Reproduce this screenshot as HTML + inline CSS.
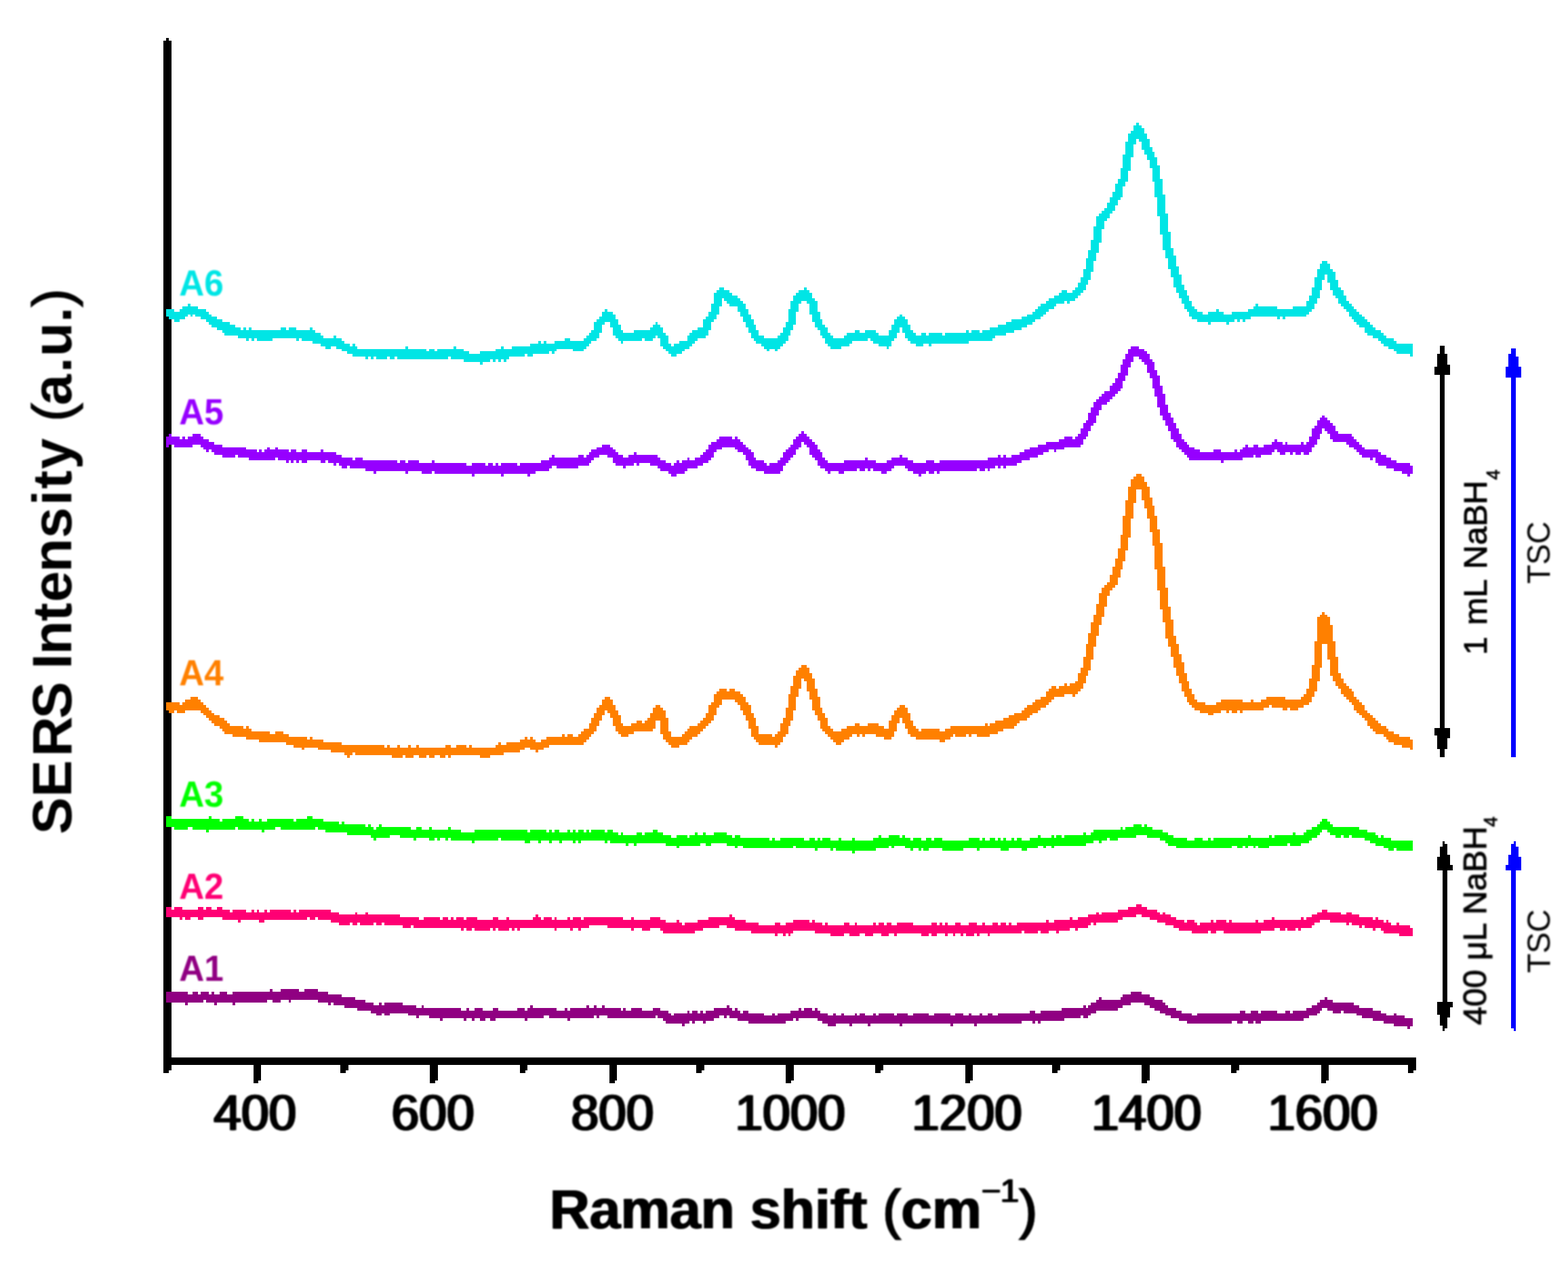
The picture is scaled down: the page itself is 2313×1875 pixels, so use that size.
<!DOCTYPE html>
<html lang="en"><head><meta charset="utf-8"><title>SERS spectra</title>
<style>
html,body{margin:0;padding:0;background:#fff;}
body{width:2313px;height:1875px;overflow:hidden;}
svg{display:block;}
text{font-family:"Liberation Sans",Arial,Helvetica,sans-serif;}
.tick{font-size:75px;fill:#000;text-anchor:middle;stroke:#000;stroke-width:0.4px;}
.ttl{font-size:81px;font-weight:bold;fill:#000;text-anchor:middle;}
.lab{font-size:53px;font-weight:bold;}
.ann{font-size:49px;fill:#000;text-anchor:middle;stroke:#000;stroke-width:0;}
.rg{font-weight:normal;stroke:#000;stroke-width:0.6px;}
.rg2{font-weight:normal;stroke:#000;stroke-width:1.4px;}
.soft{filter:url(#soft);}
.softh{filter:url(#softh);}
.softt{filter:url(#softt);}
</style></head><body>
<svg width="2313" height="1875" viewBox="0 0 2313 1875">
<defs><filter id="soft" x="-5%" y="-5%" width="110%" height="110%"><feGaussianBlur stdDeviation="1.1"/></filter><filter id="softt" x="-5%" y="-10%" width="110%" height="120%"><feOffset in="SourceGraphic" dx="-0.9" result="a"/><feOffset in="SourceGraphic" dx="0.9" result="b"/><feMerge result="m"><feMergeNode in="a"/><feMergeNode in="b"/></feMerge><feGaussianBlur in="m" stdDeviation="1.0"/></filter><filter id="softh" x="-5%" y="-10%" width="110%" height="120%"><feOffset in="SourceGraphic" dx="-1.5" result="a"/><feOffset in="SourceGraphic" dx="1.5" result="b"/><feMerge result="m"><feMergeNode in="a"/><feMergeNode in="b"/><feMergeNode in="SourceGraphic"/></feMerge><feGaussianBlur in="m" stdDeviation="1.0"/></filter></defs>
<rect width="2313" height="1875" fill="#fff"/>
<g shape-rendering="crispEdges"><rect x="241.30" y="59.80" width="11.80" height="1519.20" fill="#000"/><rect x="245.20" y="55.90" width="3.90" height="3.90" fill="#000"/><rect x="241.30" y="1579.00" width="7.80" height="4.00" fill="#000"/><rect x="241.30" y="1559.80" width="1847.30" height="11.60" fill="#000"/><rect x="373.52" y="1571.00" width="11.76" height="23.30" fill="#000"/><rect x="373.52" y="1594.00" width="7.84" height="4.30" fill="#000"/><rect x="501.92" y="1571.00" width="11.76" height="8.00" fill="#000"/><rect x="501.92" y="1578.80" width="7.84" height="4.20" fill="#000"/><rect x="634.22" y="1571.00" width="11.76" height="23.30" fill="#000"/><rect x="634.22" y="1594.00" width="7.84" height="4.30" fill="#000"/><rect x="766.72" y="1571.00" width="11.76" height="8.00" fill="#000"/><rect x="766.72" y="1578.80" width="7.84" height="4.20" fill="#000"/><rect x="898.72" y="1571.00" width="11.76" height="23.30" fill="#000"/><rect x="898.72" y="1594.00" width="7.84" height="4.30" fill="#000"/><rect x="1027.12" y="1571.00" width="11.76" height="8.00" fill="#000"/><rect x="1027.12" y="1578.80" width="7.84" height="4.20" fill="#000"/><rect x="1159.12" y="1571.00" width="11.76" height="23.30" fill="#000"/><rect x="1159.12" y="1594.00" width="7.84" height="4.30" fill="#000"/><rect x="1291.42" y="1571.00" width="11.76" height="8.00" fill="#000"/><rect x="1291.42" y="1578.80" width="7.84" height="4.20" fill="#000"/><rect x="1423.62" y="1571.00" width="11.76" height="23.30" fill="#000"/><rect x="1423.62" y="1594.00" width="7.84" height="4.30" fill="#000"/><rect x="1552.02" y="1571.00" width="11.76" height="8.00" fill="#000"/><rect x="1552.02" y="1578.80" width="7.84" height="4.20" fill="#000"/><rect x="1684.12" y="1571.00" width="11.76" height="23.30" fill="#000"/><rect x="1684.12" y="1594.00" width="7.84" height="4.30" fill="#000"/><rect x="1816.42" y="1571.00" width="11.76" height="8.00" fill="#000"/><rect x="1816.42" y="1578.80" width="7.84" height="4.20" fill="#000"/><rect x="1948.52" y="1571.00" width="11.76" height="23.30" fill="#000"/><rect x="1948.52" y="1594.00" width="7.84" height="4.30" fill="#000"/><rect x="2076.92" y="1571.00" width="11.68" height="8.00" fill="#000"/><rect x="2076.92" y="1578.80" width="7.84" height="4.20" fill="#000"/></g>
<path shape-rendering="crispEdges" transform="translate(2.180 1.000) scale(3.92)" fill="#900082" d="M62 373v4h1v-4zM63 373v4h1v-4zM64 373v4h1v-4zM65 373v4h1v-4zM66 373v4h1v-4zM67 373v4h1v-4zM68 373v4h1v-4zM69 373v5h1v-5zM70 374v3h1v-3zM71 374v3h1v-3zM72 373v4h1v-4zM73 373v4h1v-4zM74 374v3h1v-3zM75 373v4h1v-4zM76 373v3h1v-3zM77 373v4h1v-4zM78 374v3h1v-3zM79 373v4h1v-4zM80 374v4h1v-4zM81 374v3h1v-3zM82 373v4h1v-4zM83 373v4h1v-4zM84 373v4h1v-4zM85 374v3h1v-3zM86 374v3h1v-3zM87 373v5h1v-5zM88 373v4h1v-4zM89 373v4h1v-4zM90 373v4h1v-4zM91 373v4h1v-4zM92 373v4h1v-4zM93 373v4h1v-4zM94 373v4h1v-4zM95 373v4h1v-4zM96 373v4h1v-4zM97 373v4h1v-4zM98 373v4h1v-4zM99 373v4h1v-4zM100 373v3h1v-3zM101 372v4h1v-4zM102 373v4h1v-4zM103 373v4h1v-4zM104 373v4h1v-4zM105 372v4h1v-4zM106 372v4h1v-4zM107 372v4h1v-4zM108 372v5h1v-5zM109 372v4h1v-4zM110 372v4h1v-4zM111 372v4h1v-4zM112 373v3h1v-3zM113 373v3h1v-3zM114 372v4h1v-4zM115 372v4h1v-4zM116 372v4h1v-4zM117 372v4h1v-4zM118 372v4h1v-4zM119 373v4h1v-4zM120 373v4h1v-4zM121 373v4h1v-4zM122 373v4h1v-4zM123 374v4h1v-4zM124 374v3h1v-3zM125 374v4h1v-4zM126 374v4h1v-4zM127 374v4h1v-4zM128 375v3h1v-3zM129 375v4h1v-4zM130 375v4h1v-4zM131 375v4h1v-4zM132 375v4h1v-4zM133 376v3h1v-3zM134 376v4h1v-4zM135 376v4h1v-4zM136 376v4h1v-4zM137 377v3h1v-3zM138 377v3h1v-3zM139 377v4h1v-4zM140 378v3h1v-3zM141 378v4h1v-4zM142 377v5h1v-5zM143 378v3h1v-3zM144 377v5h1v-5zM145 377v5h1v-5zM146 377v4h1v-4zM147 377v4h1v-4zM148 377v4h1v-4zM149 377v4h1v-4zM150 377v4h1v-4zM151 378v3h1v-3zM152 378v3h1v-3zM153 378v4h1v-4zM154 378v4h1v-4zM155 378v4h1v-4zM156 379v4h1v-4zM157 379v3h1v-3zM158 378v4h1v-4zM159 379v3h1v-3zM160 379v3h1v-3zM161 379v4h1v-4zM162 379v4h1v-4zM163 379v4h1v-4zM164 379v4h1v-4zM165 379v5h1v-5zM166 379v4h1v-4zM167 379v4h1v-4zM168 379v4h1v-4zM169 379v4h1v-4zM170 379v4h1v-4zM171 379v4h1v-4zM172 379v4h1v-4zM173 380v3h1v-3zM174 380v4h1v-4zM175 379v4h1v-4zM176 380v3h1v-3zM177 380v4h1v-4zM178 379v4h1v-4zM179 379v4h1v-4zM180 379v5h1v-5zM181 380v4h1v-4zM182 380v3h1v-3zM183 380v3h1v-3zM184 380v4h1v-4zM185 379v5h1v-5zM186 379v4h1v-4zM187 380v3h1v-3zM188 380v3h1v-3zM189 380v3h1v-3zM190 380v3h1v-3zM191 380v3h1v-3zM192 380v3h1v-3zM193 380v3h1v-3zM194 379v4h1v-4zM195 379v4h1v-4zM196 379v4h1v-4zM197 380v4h1v-4zM198 379v4h1v-4zM199 378v5h1v-5zM200 379v4h1v-4zM201 379v4h1v-4zM202 379v4h1v-4zM203 379v4h1v-4zM204 379v3h1v-3zM205 379v3h1v-3zM206 379v4h1v-4zM207 379v4h1v-4zM208 379v4h1v-4zM209 380v3h1v-3zM210 380v3h1v-3zM211 380v3h1v-3zM212 379v4h1v-4zM213 380v4h1v-4zM214 379v4h1v-4zM215 379v4h1v-4zM216 379v4h1v-4zM217 379v4h1v-4zM218 379v4h1v-4zM219 379v4h1v-4zM220 378v5h1v-5zM221 379v4h1v-4zM222 379v4h1v-4zM223 378v4h1v-4zM224 379v4h1v-4zM225 379v3h1v-3zM226 378v4h1v-4zM227 379v3h1v-3zM228 379v4h1v-4zM229 379v4h1v-4zM230 379v4h1v-4zM231 379v4h1v-4zM232 379v4h1v-4zM233 380v3h1v-3zM234 379v4h1v-4zM235 380v3h1v-3zM236 380v3h1v-3zM237 379v4h1v-4zM238 379v4h1v-4zM239 379v4h1v-4zM240 379v4h1v-4zM241 380v3h1v-3zM242 380v3h1v-3zM243 380v3h1v-3zM244 380v3h1v-3zM245 379v4h1v-4zM246 379v3h1v-3zM247 379v4h1v-4zM248 380v3h1v-3zM249 380v4h1v-4zM250 380v5h1v-5zM251 381v4h1v-4zM252 382v3h1v-3zM253 381v4h1v-4zM254 381v4h1v-4zM255 381v4h1v-4zM256 381v5h1v-5zM257 381v4h1v-4zM258 380v5h1v-5zM259 381v3h1v-3zM260 380v5h1v-5zM261 380v4h1v-4zM262 381v3h1v-3zM263 380v4h1v-4zM264 381v4h1v-4zM265 380v4h1v-4zM266 380v4h1v-4zM267 380v4h1v-4zM268 379v4h1v-4zM269 379v4h1v-4zM270 379v3h1v-3zM271 379v3h1v-3zM272 379v4h1v-4zM273 378v4h1v-4zM274 379v4h1v-4zM275 380v3h1v-3zM276 379v4h1v-4zM277 380v4h1v-4zM278 381v3h1v-3zM279 380v4h1v-4zM280 380v4h1v-4zM281 381v4h1v-4zM282 381v4h1v-4zM283 381v4h1v-4zM284 381v4h1v-4zM285 381v4h1v-4zM286 381v4h1v-4zM287 382v3h1v-3zM288 382v3h1v-3zM289 382v3h1v-3zM290 381v4h1v-4zM291 382v3h1v-3zM292 381v4h1v-4zM293 381v4h1v-4zM294 381v4h1v-4zM295 381v3h1v-3zM296 381v3h1v-3zM297 380v4h1v-4zM298 380v3h1v-3zM299 380v4h1v-4zM300 379v4h1v-4zM301 380v3h1v-3zM302 379v4h1v-4zM303 379v4h1v-4zM304 379v4h1v-4zM305 380v3h1v-3zM306 379v4h1v-4zM307 380v4h1v-4zM308 381v3h1v-3zM309 381v4h1v-4zM310 381v4h1v-4zM311 382v4h1v-4zM312 382v4h1v-4zM313 381v5h1v-5zM314 382v3h1v-3zM315 382v3h1v-3zM316 381v4h1v-4zM317 382v3h1v-3zM318 382v3h1v-3zM319 382v4h1v-4zM320 382v3h1v-3zM321 381v4h1v-4zM322 382v3h1v-3zM323 381v4h1v-4zM324 381v4h1v-4zM325 382v3h1v-3zM326 382v4h1v-4zM327 382v3h1v-3zM328 381v4h1v-4zM329 382v3h1v-3zM330 381v4h1v-4zM331 381v4h1v-4zM332 381v4h1v-4zM333 381v4h1v-4zM334 381v4h1v-4zM335 381v4h1v-4zM336 382v3h1v-3zM337 381v4h1v-4zM338 381v5h1v-5zM339 381v4h1v-4zM340 381v4h1v-4zM341 382v3h1v-3zM342 382v3h1v-3zM343 381v4h1v-4zM344 381v4h1v-4zM345 381v4h1v-4zM346 381v4h1v-4zM347 381v4h1v-4zM348 381v4h1v-4zM349 382v3h1v-3zM350 382v3h1v-3zM351 381v4h1v-4zM352 381v4h1v-4zM353 381v4h1v-4zM354 381v4h1v-4zM355 381v4h1v-4zM356 381v4h1v-4zM357 382v4h1v-4zM358 382v3h1v-3zM359 381v4h1v-4zM360 381v4h1v-4zM361 381v4h1v-4zM362 382v3h1v-3zM363 382v3h1v-3zM364 381v4h1v-4zM365 382v3h1v-3zM366 382v4h1v-4zM367 382v3h1v-3zM368 381v4h1v-4zM369 382v3h1v-3zM370 382v3h1v-3zM371 381v4h1v-4zM372 381v4h1v-4zM373 382v3h1v-3zM374 382v3h1v-3zM375 381v4h1v-4zM376 381v4h1v-4zM377 381v4h1v-4zM378 381v4h1v-4zM379 381v4h1v-4zM380 381v4h1v-4zM381 381v4h1v-4zM382 381v4h1v-4zM383 381v4h1v-4zM384 381v3h1v-3zM385 381v3h1v-3zM386 381v3h1v-3zM387 380v4h1v-4zM388 380v5h1v-5zM389 381v3h1v-3zM390 381v4h1v-4zM391 380v4h1v-4zM392 380v4h1v-4zM393 380v4h1v-4zM394 380v4h1v-4zM395 380v4h1v-4zM396 380v4h1v-4zM397 380v4h1v-4zM398 380v4h1v-4zM399 379v5h1v-5zM400 379v4h1v-4zM401 379v4h1v-4zM402 379v4h1v-4zM403 379v4h1v-4zM404 379v4h1v-4zM405 379v4h1v-4zM406 379v3h1v-3zM407 378v5h1v-5zM408 379v4h1v-4zM409 378v4h1v-4zM410 377v4h1v-4zM411 377v4h1v-4zM412 376v4h1v-4zM413 375v5h1v-5zM414 376v4h1v-4zM415 376v4h1v-4zM416 376v4h1v-4zM417 376v4h1v-4zM418 376v4h1v-4zM419 376v4h1v-4zM420 376v3h1v-3zM421 375v4h1v-4zM422 374v4h1v-4zM423 374v4h1v-4zM424 374v4h1v-4zM425 373v4h1v-4zM426 373v4h1v-4zM427 373v4h1v-4zM428 373v4h1v-4zM429 374v3h1v-3zM430 374v4h1v-4zM431 374v4h1v-4zM432 375v4h1v-4zM433 375v4h1v-4zM434 376v4h1v-4zM435 376v4h1v-4zM436 376v5h1v-5zM437 377v4h1v-4zM438 378v4h1v-4zM439 379v3h1v-3zM440 379v4h1v-4zM441 379v4h1v-4zM442 380v3h1v-3zM443 380v4h1v-4zM444 381v3h1v-3zM445 381v3h1v-3zM446 381v4h1v-4zM447 381v4h1v-4zM448 382v3h1v-3zM449 382v3h1v-3zM450 381v4h1v-4zM451 381v4h1v-4zM452 381v4h1v-4zM453 381v4h1v-4zM454 381v4h1v-4zM455 381v4h1v-4zM456 381v4h1v-4zM457 381v4h1v-4zM458 381v4h1v-4zM459 381v4h1v-4zM460 381v4h1v-4zM461 381v4h1v-4zM462 381v4h1v-4zM463 381v3h1v-3zM464 381v3h1v-3zM465 381v4h1v-4zM466 380v5h1v-5zM467 380v4h1v-4zM468 381v3h1v-3zM469 381v4h1v-4zM470 380v5h1v-5zM471 380v4h1v-4zM472 380v5h1v-5zM473 381v4h1v-4zM474 380v4h1v-4zM475 380v4h1v-4zM476 380v4h1v-4zM477 380v4h1v-4zM478 380v4h1v-4zM479 380v4h1v-4zM480 381v3h1v-3zM481 381v3h1v-3zM482 381v3h1v-3zM483 380v4h1v-4zM484 380v4h1v-4zM485 381v3h1v-3zM486 380v4h1v-4zM487 380v4h1v-4zM488 380v4h1v-4zM489 380v4h1v-4zM490 380v3h1v-3zM491 379v4h1v-4zM492 379v3h1v-3zM493 378v4h1v-4zM494 378v4h1v-4zM495 377v4h1v-4zM496 376v4h1v-4zM497 376v3h1v-3zM498 375v4h1v-4zM499 376v4h1v-4zM500 376v4h1v-4zM501 377v4h1v-4zM502 377v4h1v-4zM503 377v4h1v-4zM504 377v3h1v-3zM505 377v4h1v-4zM506 377v4h1v-4zM507 377v4h1v-4zM508 377v4h1v-4zM509 378v3h1v-3zM510 378v4h1v-4zM511 379v3h1v-3zM512 379v4h1v-4zM513 379v4h1v-4zM514 379v4h1v-4zM515 379v4h1v-4zM516 380v4h1v-4zM517 380v4h1v-4zM518 380v4h1v-4zM519 381v3h1v-3zM520 381v4h1v-4zM521 382v3h1v-3zM522 382v3h1v-3zM523 382v3h1v-3zM524 381v5h1v-5zM525 382v4h1v-4zM526 382v4h1v-4zM527 382v4h1v-4zM528 383v3h1v-3zM529 383v4h1v-4zM530 383v3h1v-3z"/>
<path shape-rendering="crispEdges" transform="translate(2.180 1.000) scale(3.92)" fill="#ff0074" d="M62 341v4h1v-4zM63 341v4h1v-4zM64 342v3h1v-3zM65 341v4h1v-4zM66 341v4h1v-4zM67 341v5h1v-5zM68 342v3h1v-3zM69 342v4h1v-4zM70 342v4h1v-4zM71 342v3h1v-3zM72 342v3h1v-3zM73 342v3h1v-3zM74 341v5h1v-5zM75 341v5h1v-5zM76 342v3h1v-3zM77 341v4h1v-4zM78 341v4h1v-4zM79 342v3h1v-3zM80 342v3h1v-3zM81 341v4h1v-4zM82 341v4h1v-4zM83 342v4h1v-4zM84 342v4h1v-4zM85 342v4h1v-4zM86 343v3h1v-3zM87 342v4h1v-4zM88 342v4h1v-4zM89 342v5h1v-5zM90 342v4h1v-4zM91 342v4h1v-4zM92 343v3h1v-3zM93 343v3h1v-3zM94 342v4h1v-4zM95 343v3h1v-3zM96 342v4h1v-4zM97 343v4h1v-4zM98 343v4h1v-4zM99 342v4h1v-4zM100 343v3h1v-3zM101 342v4h1v-4zM102 342v4h1v-4zM103 342v4h1v-4zM104 342v4h1v-4zM105 342v4h1v-4zM106 342v4h1v-4zM107 342v4h1v-4zM108 342v4h1v-4zM109 343v3h1v-3zM110 342v4h1v-4zM111 343v3h1v-3zM112 342v4h1v-4zM113 342v4h1v-4zM114 342v4h1v-4zM115 342v3h1v-3zM116 342v4h1v-4zM117 342v4h1v-4zM118 342v3h1v-3zM119 342v4h1v-4zM120 342v4h1v-4zM121 342v4h1v-4zM122 342v4h1v-4zM123 342v4h1v-4zM124 343v4h1v-4zM125 343v4h1v-4zM126 343v4h1v-4zM127 344v4h1v-4zM128 344v4h1v-4zM129 344v4h1v-4zM130 344v4h1v-4zM131 344v3h1v-3zM132 344v4h1v-4zM133 343v5h1v-5zM134 344v3h1v-3zM135 344v4h1v-4zM136 344v4h1v-4zM137 343v5h1v-5zM138 344v4h1v-4zM139 344v4h1v-4zM140 344v3h1v-3zM141 344v4h1v-4zM142 344v4h1v-4zM143 344v3h1v-3zM144 344v4h1v-4zM145 344v4h1v-4zM146 344v4h1v-4zM147 344v4h1v-4zM148 344v4h1v-4zM149 344v4h1v-4zM150 345v3h1v-3zM151 345v4h1v-4zM152 345v4h1v-4zM153 345v4h1v-4zM154 345v3h1v-3zM155 345v4h1v-4zM156 345v4h1v-4zM157 346v3h1v-3zM158 346v3h1v-3zM159 345v4h1v-4zM160 345v4h1v-4zM161 345v4h1v-4zM162 345v4h1v-4zM163 345v4h1v-4zM164 345v4h1v-4zM165 346v3h1v-3zM166 345v4h1v-4zM167 345v4h1v-4zM168 346v3h1v-3zM169 345v4h1v-4zM170 346v3h1v-3zM171 345v4h1v-4zM172 345v4h1v-4zM173 345v5h1v-5zM174 346v3h1v-3zM175 345v5h1v-5zM176 345v5h1v-5zM177 345v4h1v-4zM178 345v5h1v-5zM179 346v4h1v-4zM180 346v4h1v-4zM181 346v4h1v-4zM182 346v4h1v-4zM183 346v4h1v-4zM184 346v3h1v-3zM185 345v5h1v-5zM186 345v4h1v-4zM187 346v4h1v-4zM188 346v4h1v-4zM189 346v4h1v-4zM190 345v5h1v-5zM191 346v3h1v-3zM192 346v4h1v-4zM193 346v3h1v-3zM194 346v4h1v-4zM195 346v3h1v-3zM196 346v3h1v-3zM197 346v3h1v-3zM198 346v3h1v-3zM199 346v3h1v-3zM200 345v4h1v-4zM201 344v5h1v-5zM202 345v4h1v-4zM203 346v3h1v-3zM204 345v4h1v-4zM205 345v4h1v-4zM206 345v4h1v-4zM207 346v3h1v-3zM208 345v5h1v-5zM209 346v3h1v-3zM210 346v3h1v-3zM211 346v3h1v-3zM212 346v3h1v-3zM213 345v4h1v-4zM214 346v4h1v-4zM215 345v4h1v-4zM216 345v4h1v-4zM217 345v5h1v-5zM218 346v3h1v-3zM219 345v4h1v-4zM220 345v4h1v-4zM221 345v3h1v-3zM222 345v3h1v-3zM223 345v3h1v-3zM224 345v3h1v-3zM225 345v3h1v-3zM226 345v3h1v-3zM227 345v3h1v-3zM228 345v4h1v-4zM229 345v4h1v-4zM230 345v4h1v-4zM231 345v4h1v-4zM232 345v4h1v-4zM233 345v4h1v-4zM234 346v3h1v-3zM235 346v3h1v-3zM236 346v3h1v-3zM237 345v5h1v-5zM238 346v3h1v-3zM239 346v3h1v-3zM240 346v3h1v-3zM241 346v4h1v-4zM242 346v4h1v-4zM243 346v4h1v-4zM244 345v4h1v-4zM245 345v4h1v-4zM246 345v4h1v-4zM247 345v4h1v-4zM248 346v4h1v-4zM249 346v5h1v-5zM250 347v4h1v-4zM251 347v4h1v-4zM252 347v4h1v-4zM253 347v4h1v-4zM254 346v5h1v-5zM255 347v4h1v-4zM256 348v3h1v-3zM257 347v4h1v-4zM258 347v4h1v-4zM259 347v4h1v-4zM260 347v4h1v-4zM261 347v3h1v-3zM262 346v4h1v-4zM263 346v4h1v-4zM264 346v3h1v-3zM265 346v3h1v-3zM266 345v4h1v-4zM267 345v4h1v-4zM268 345v4h1v-4zM269 345v4h1v-4zM270 345v3h1v-3zM271 345v3h1v-3zM272 345v3h1v-3zM273 345v4h1v-4zM274 344v5h1v-5zM275 345v4h1v-4zM276 346v4h1v-4zM277 346v4h1v-4zM278 346v4h1v-4zM279 346v4h1v-4zM280 347v3h1v-3zM281 347v3h1v-3zM282 347v4h1v-4zM283 347v4h1v-4zM284 347v4h1v-4zM285 348v3h1v-3zM286 348v3h1v-3zM287 348v3h1v-3zM288 348v3h1v-3zM289 348v3h1v-3zM290 348v3h1v-3zM291 347v5h1v-5zM292 347v4h1v-4zM293 348v3h1v-3zM294 348v4h1v-4zM295 347v4h1v-4zM296 347v5h1v-5zM297 347v4h1v-4zM298 346v4h1v-4zM299 346v4h1v-4zM300 346v4h1v-4zM301 346v4h1v-4zM302 346v4h1v-4zM303 346v4h1v-4zM304 347v3h1v-3zM305 346v4h1v-4zM306 347v4h1v-4zM307 347v4h1v-4zM308 347v4h1v-4zM309 348v3h1v-3zM310 347v4h1v-4zM311 348v3h1v-3zM312 348v4h1v-4zM313 348v4h1v-4zM314 348v4h1v-4zM315 348v4h1v-4zM316 348v4h1v-4zM317 347v4h1v-4zM318 347v4h1v-4zM319 348v4h1v-4zM320 348v4h1v-4zM321 347v5h1v-5zM322 348v4h1v-4zM323 348v3h1v-3zM324 348v3h1v-3zM325 348v4h1v-4zM326 348v4h1v-4zM327 348v4h1v-4zM328 347v4h1v-4zM329 348v3h1v-3zM330 347v4h1v-4zM331 347v5h1v-5zM332 348v4h1v-4zM333 347v5h1v-5zM334 347v4h1v-4zM335 348v3h1v-3zM336 348v4h1v-4zM337 347v4h1v-4zM338 347v4h1v-4zM339 347v4h1v-4zM340 347v4h1v-4zM341 347v4h1v-4zM342 347v4h1v-4zM343 348v3h1v-3zM344 348v3h1v-3zM345 348v3h1v-3zM346 348v4h1v-4zM347 348v4h1v-4zM348 348v4h1v-4zM349 348v3h1v-3zM350 347v5h1v-5zM351 347v5h1v-5zM352 348v3h1v-3zM353 347v4h1v-4zM354 348v3h1v-3zM355 347v5h1v-5zM356 348v3h1v-3zM357 348v3h1v-3zM358 348v4h1v-4zM359 347v4h1v-4zM360 347v4h1v-4zM361 348v4h1v-4zM362 348v3h1v-3zM363 348v4h1v-4zM364 347v5h1v-5zM365 347v5h1v-5zM366 347v4h1v-4zM367 348v4h1v-4zM368 348v3h1v-3zM369 347v4h1v-4zM370 348v3h1v-3zM371 348v4h1v-4zM372 348v3h1v-3zM373 347v4h1v-4zM374 347v4h1v-4zM375 348v3h1v-3zM376 347v4h1v-4zM377 347v4h1v-4zM378 348v3h1v-3zM379 347v4h1v-4zM380 348v3h1v-3zM381 348v3h1v-3zM382 347v4h1v-4zM383 347v4h1v-4zM384 347v3h1v-3zM385 347v4h1v-4zM386 347v4h1v-4zM387 347v4h1v-4zM388 347v4h1v-4zM389 347v4h1v-4zM390 347v3h1v-3zM391 347v4h1v-4zM392 347v4h1v-4zM393 346v5h1v-5zM394 347v3h1v-3zM395 347v3h1v-3zM396 346v4h1v-4zM397 346v5h1v-5zM398 346v4h1v-4zM399 346v4h1v-4zM400 346v4h1v-4zM401 346v4h1v-4zM402 345v4h1v-4zM403 346v3h1v-3zM404 346v4h1v-4zM405 345v4h1v-4zM406 345v4h1v-4zM407 345v4h1v-4zM408 345v4h1v-4zM409 344v4h1v-4zM410 344v3h1v-3zM411 344v4h1v-4zM412 343v4h1v-4zM413 344v3h1v-3zM414 343v4h1v-4zM415 343v4h1v-4zM416 343v4h1v-4zM417 343v4h1v-4zM418 343v4h1v-4zM419 343v4h1v-4zM420 342v4h1v-4zM421 342v4h1v-4zM422 342v3h1v-3zM423 342v3h1v-3zM424 341v4h1v-4zM425 341v4h1v-4zM426 341v4h1v-4zM427 340v4h1v-4zM428 340v4h1v-4zM429 341v4h1v-4zM430 341v4h1v-4zM431 342v3h1v-3zM432 342v4h1v-4zM433 342v4h1v-4zM434 342v4h1v-4zM435 343v4h1v-4zM436 344v3h1v-3zM437 343v4h1v-4zM438 344v4h1v-4zM439 344v4h1v-4zM440 345v3h1v-3zM441 345v4h1v-4zM442 346v3h1v-3zM443 346v4h1v-4zM444 346v4h1v-4zM445 347v3h1v-3zM446 346v4h1v-4zM447 346v4h1v-4zM448 346v5h1v-5zM449 347v4h1v-4zM450 348v3h1v-3zM451 347v4h1v-4zM452 347v4h1v-4zM453 347v4h1v-4zM454 347v3h1v-3zM455 346v5h1v-5zM456 347v4h1v-4zM457 346v4h1v-4zM458 346v4h1v-4zM459 346v4h1v-4zM460 346v5h1v-5zM461 347v4h1v-4zM462 346v5h1v-5zM463 347v4h1v-4zM464 347v4h1v-4zM465 347v4h1v-4zM466 347v4h1v-4zM467 347v4h1v-4zM468 347v4h1v-4zM469 347v4h1v-4zM470 347v4h1v-4zM471 347v4h1v-4zM472 346v5h1v-5zM473 347v4h1v-4zM474 347v3h1v-3zM475 346v4h1v-4zM476 346v4h1v-4zM477 346v4h1v-4zM478 345v5h1v-5zM479 346v3h1v-3zM480 346v3h1v-3zM481 346v4h1v-4zM482 346v4h1v-4zM483 346v3h1v-3zM484 346v4h1v-4zM485 346v4h1v-4zM486 346v4h1v-4zM487 346v3h1v-3zM488 346v4h1v-4zM489 345v4h1v-4zM490 346v3h1v-3zM491 345v4h1v-4zM492 345v4h1v-4zM493 344v4h1v-4zM494 344v3h1v-3zM495 343v4h1v-4zM496 343v3h1v-3zM497 342v4h1v-4zM498 342v4h1v-4zM499 343v3h1v-3zM500 343v4h1v-4zM501 343v4h1v-4zM502 343v4h1v-4zM503 343v4h1v-4zM504 344v3h1v-3zM505 344v3h1v-3zM506 343v5h1v-5zM507 343v4h1v-4zM508 344v4h1v-4zM509 344v4h1v-4zM510 344v4h1v-4zM511 345v4h1v-4zM512 345v3h1v-3zM513 345v4h1v-4zM514 345v4h1v-4zM515 345v4h1v-4zM516 346v4h1v-4zM517 345v4h1v-4zM518 346v3h1v-3zM519 346v4h1v-4zM520 347v4h1v-4zM521 346v5h1v-5zM522 347v4h1v-4zM523 348v3h1v-3zM524 348v3h1v-3zM525 347v4h1v-4zM526 348v4h1v-4zM527 348v4h1v-4zM528 348v4h1v-4zM529 348v4h1v-4zM530 349v3h1v-3z"/>
<path shape-rendering="crispEdges" transform="translate(2.180 1.000) scale(3.92)" fill="#00ff00" d="M62 307v4h1v-4zM63 307v4h1v-4zM64 308v3h1v-3zM65 308v4h1v-4zM66 308v4h1v-4zM67 308v4h1v-4zM68 308v4h1v-4zM69 308v4h1v-4zM70 308v3h1v-3zM71 308v3h1v-3zM72 308v4h1v-4zM73 308v4h1v-4zM74 308v4h1v-4zM75 308v4h1v-4zM76 308v4h1v-4zM77 308v5h1v-5zM78 307v5h1v-5zM79 308v4h1v-4zM80 308v4h1v-4zM81 308v4h1v-4zM82 309v3h1v-3zM83 308v4h1v-4zM84 308v4h1v-4zM85 308v4h1v-4zM86 308v4h1v-4zM87 308v4h1v-4zM88 307v4h1v-4zM89 307v5h1v-5zM90 307v5h1v-5zM91 308v4h1v-4zM92 308v4h1v-4zM93 309v3h1v-3zM94 308v4h1v-4zM95 309v3h1v-3zM96 309v3h1v-3zM97 308v4h1v-4zM98 309v4h1v-4zM99 309v3h1v-3zM100 308v4h1v-4zM101 308v4h1v-4zM102 308v4h1v-4zM103 308v3h1v-3zM104 308v3h1v-3zM105 308v4h1v-4zM106 308v4h1v-4zM107 308v4h1v-4zM108 308v4h1v-4zM109 308v4h1v-4zM110 309v3h1v-3zM111 308v4h1v-4zM112 308v4h1v-4zM113 308v4h1v-4zM114 308v4h1v-4zM115 307v5h1v-5zM116 307v5h1v-5zM117 308v4h1v-4zM118 308v3h1v-3zM119 308v4h1v-4zM120 308v4h1v-4zM121 309v3h1v-3zM122 309v4h1v-4zM123 309v4h1v-4zM124 309v4h1v-4zM125 309v4h1v-4zM126 309v4h1v-4zM127 310v3h1v-3zM128 309v4h1v-4zM129 310v3h1v-3zM130 310v4h1v-4zM131 310v4h1v-4zM132 310v4h1v-4zM133 310v4h1v-4zM134 310v4h1v-4zM135 310v4h1v-4zM136 310v4h1v-4zM137 311v3h1v-3zM138 310v4h1v-4zM139 311v4h1v-4zM140 312v4h1v-4zM141 311v4h1v-4zM142 310v5h1v-5zM143 311v4h1v-4zM144 311v4h1v-4zM145 311v4h1v-4zM146 311v3h1v-3zM147 311v3h1v-3zM148 311v3h1v-3zM149 311v3h1v-3zM150 311v4h1v-4zM151 311v4h1v-4zM152 311v4h1v-4zM153 311v4h1v-4zM154 312v3h1v-3zM155 312v4h1v-4zM156 311v4h1v-4zM157 311v4h1v-4zM158 312v3h1v-3zM159 312v3h1v-3zM160 312v3h1v-3zM161 311v5h1v-5zM162 312v4h1v-4zM163 312v3h1v-3zM164 312v4h1v-4zM165 312v3h1v-3zM166 312v3h1v-3zM167 312v4h1v-4zM168 311v4h1v-4zM169 312v4h1v-4zM170 312v4h1v-4zM171 312v4h1v-4zM172 312v4h1v-4zM173 313v3h1v-3zM174 313v3h1v-3zM175 313v3h1v-3zM176 313v3h1v-3zM177 313v4h1v-4zM178 312v4h1v-4zM179 312v4h1v-4zM180 312v4h1v-4zM181 312v4h1v-4zM182 312v4h1v-4zM183 312v4h1v-4zM184 312v4h1v-4zM185 312v4h1v-4zM186 312v4h1v-4zM187 312v3h1v-3zM188 312v4h1v-4zM189 312v4h1v-4zM190 312v4h1v-4zM191 312v4h1v-4zM192 312v4h1v-4zM193 312v4h1v-4zM194 312v4h1v-4zM195 312v4h1v-4zM196 312v4h1v-4zM197 312v5h1v-5zM198 313v4h1v-4zM199 312v4h1v-4zM200 312v4h1v-4zM201 312v4h1v-4zM202 312v5h1v-5zM203 312v4h1v-4zM204 312v4h1v-4zM205 313v3h1v-3zM206 312v5h1v-5zM207 313v3h1v-3zM208 312v4h1v-4zM209 312v4h1v-4zM210 313v4h1v-4zM211 313v3h1v-3zM212 313v3h1v-3zM213 312v4h1v-4zM214 313v3h1v-3zM215 312v5h1v-5zM216 313v3h1v-3zM217 312v5h1v-5zM218 312v4h1v-4zM219 313v3h1v-3zM220 312v4h1v-4zM221 313v3h1v-3zM222 312v4h1v-4zM223 312v4h1v-4zM224 312v4h1v-4zM225 312v4h1v-4zM226 312v4h1v-4zM227 313v4h1v-4zM228 312v4h1v-4zM229 312v5h1v-5zM230 313v4h1v-4zM231 313v4h1v-4zM232 314v3h1v-3zM233 313v4h1v-4zM234 314v3h1v-3zM235 314v4h1v-4zM236 314v3h1v-3zM237 314v3h1v-3zM238 314v4h1v-4zM239 313v4h1v-4zM240 313v4h1v-4zM241 314v3h1v-3zM242 313v4h1v-4zM243 313v4h1v-4zM244 313v4h1v-4zM245 312v5h1v-5zM246 312v5h1v-5zM247 313v4h1v-4zM248 313v4h1v-4zM249 314v3h1v-3zM250 314v4h1v-4zM251 314v4h1v-4zM252 315v3h1v-3zM253 315v3h1v-3zM254 314v5h1v-5zM255 314v4h1v-4zM256 314v4h1v-4zM257 314v4h1v-4zM258 315v3h1v-3zM259 314v4h1v-4zM260 314v4h1v-4zM261 313v5h1v-5zM262 314v4h1v-4zM263 314v3h1v-3zM264 313v4h1v-4zM265 314v4h1v-4zM266 314v4h1v-4zM267 314v3h1v-3zM268 313v4h1v-4zM269 313v4h1v-4zM270 313v4h1v-4zM271 313v4h1v-4zM272 313v4h1v-4zM273 314v4h1v-4zM274 314v4h1v-4zM275 315v3h1v-3zM276 314v5h1v-5zM277 314v4h1v-4zM278 315v3h1v-3zM279 315v4h1v-4zM280 315v4h1v-4zM281 315v4h1v-4zM282 315v4h1v-4zM283 315v4h1v-4zM284 315v4h1v-4zM285 315v4h1v-4zM286 315v4h1v-4zM287 315v4h1v-4zM288 315v4h1v-4zM289 316v3h1v-3zM290 315v4h1v-4zM291 316v3h1v-3zM292 316v3h1v-3zM293 315v4h1v-4zM294 315v4h1v-4zM295 315v4h1v-4zM296 315v4h1v-4zM297 315v4h1v-4zM298 315v3h1v-3zM299 315v4h1v-4zM300 315v4h1v-4zM301 315v4h1v-4zM302 316v3h1v-3zM303 316v3h1v-3zM304 315v4h1v-4zM305 315v4h1v-4zM306 316v4h1v-4zM307 315v4h1v-4zM308 316v3h1v-3zM309 315v4h1v-4zM310 315v4h1v-4zM311 315v4h1v-4zM312 316v4h1v-4zM313 316v3h1v-3zM314 316v4h1v-4zM315 315v5h1v-5zM316 316v4h1v-4zM317 316v4h1v-4zM318 316v4h1v-4zM319 316v4h1v-4zM320 315v6h1v-6zM321 316v4h1v-4zM322 316v4h1v-4zM323 316v4h1v-4zM324 316v4h1v-4zM325 316v4h1v-4zM326 316v4h1v-4zM327 316v4h1v-4zM328 315v5h1v-5zM329 315v4h1v-4zM330 314v5h1v-5zM331 315v4h1v-4zM332 315v4h1v-4zM333 315v4h1v-4zM334 314v4h1v-4zM335 314v5h1v-5zM336 314v4h1v-4zM337 314v4h1v-4zM338 315v3h1v-3zM339 314v4h1v-4zM340 315v4h1v-4zM341 315v4h1v-4zM342 316v4h1v-4zM343 315v4h1v-4zM344 315v4h1v-4zM345 315v5h1v-5zM346 316v3h1v-3zM347 316v4h1v-4zM348 315v5h1v-5zM349 315v4h1v-4zM350 316v3h1v-3zM351 315v4h1v-4zM352 315v4h1v-4zM353 315v4h1v-4zM354 316v4h1v-4zM355 316v4h1v-4zM356 316v4h1v-4zM357 316v4h1v-4zM358 316v4h1v-4zM359 316v4h1v-4zM360 316v4h1v-4zM361 316v4h1v-4zM362 316v3h1v-3zM363 316v3h1v-3zM364 315v4h1v-4zM365 315v4h1v-4zM366 315v4h1v-4zM367 315v5h1v-5zM368 316v3h1v-3zM369 315v4h1v-4zM370 316v3h1v-3zM371 316v3h1v-3zM372 315v4h1v-4zM373 315v4h1v-4zM374 316v3h1v-3zM375 315v4h1v-4zM376 316v4h1v-4zM377 315v5h1v-5zM378 316v4h1v-4zM379 316v3h1v-3zM380 315v4h1v-4zM381 316v3h1v-3zM382 315v4h1v-4zM383 315v4h1v-4zM384 316v4h1v-4zM385 316v4h1v-4zM386 316v3h1v-3zM387 315v4h1v-4zM388 315v4h1v-4zM389 315v4h1v-4zM390 314v4h1v-4zM391 315v3h1v-3zM392 315v4h1v-4zM393 315v3h1v-3zM394 315v3h1v-3zM395 314v5h1v-5zM396 315v3h1v-3zM397 314v4h1v-4zM398 314v4h1v-4zM399 315v3h1v-3zM400 314v4h1v-4zM401 314v4h1v-4zM402 314v4h1v-4zM403 314v4h1v-4zM404 314v4h1v-4zM405 314v4h1v-4zM406 314v4h1v-4zM407 313v5h1v-5zM408 314v3h1v-3zM409 314v3h1v-3zM410 313v4h1v-4zM411 312v4h1v-4zM412 312v4h1v-4zM413 312v5h1v-5zM414 312v4h1v-4zM415 312v4h1v-4zM416 312v3h1v-3zM417 312v4h1v-4zM418 312v4h1v-4zM419 312v4h1v-4zM420 312v3h1v-3zM421 311v4h1v-4zM422 312v3h1v-3zM423 311v4h1v-4zM424 311v4h1v-4zM425 311v4h1v-4zM426 310v5h1v-5zM427 310v4h1v-4zM428 310v4h1v-4zM429 311v3h1v-3zM430 310v4h1v-4zM431 311v4h1v-4zM432 311v4h1v-4zM433 312v3h1v-3zM434 312v3h1v-3zM435 312v3h1v-3zM436 312v4h1v-4zM437 313v3h1v-3zM438 313v4h1v-4zM439 314v4h1v-4zM440 314v4h1v-4zM441 315v3h1v-3zM442 315v4h1v-4zM443 315v4h1v-4zM444 315v4h1v-4zM445 315v4h1v-4zM446 316v3h1v-3zM447 316v3h1v-3zM448 316v3h1v-3zM449 315v4h1v-4zM450 315v4h1v-4zM451 315v4h1v-4zM452 316v3h1v-3zM453 316v3h1v-3zM454 315v4h1v-4zM455 316v3h1v-3zM456 315v4h1v-4zM457 315v4h1v-4zM458 315v4h1v-4zM459 315v4h1v-4zM460 315v4h1v-4zM461 315v4h1v-4zM462 315v4h1v-4zM463 315v3h1v-3zM464 315v3h1v-3zM465 315v4h1v-4zM466 315v4h1v-4zM467 315v3h1v-3zM468 315v4h1v-4zM469 314v4h1v-4zM470 315v3h1v-3zM471 315v4h1v-4zM472 315v3h1v-3zM473 315v4h1v-4zM474 315v4h1v-4zM475 315v4h1v-4zM476 315v4h1v-4zM477 314v4h1v-4zM478 315v3h1v-3zM479 314v4h1v-4zM480 314v4h1v-4zM481 314v4h1v-4zM482 314v4h1v-4zM483 314v4h1v-4zM484 314v3h1v-3zM485 314v4h1v-4zM486 313v5h1v-5zM487 314v4h1v-4zM488 314v4h1v-4zM489 314v3h1v-3zM490 313v4h1v-4zM491 312v5h1v-5zM492 312v4h1v-4zM493 311v4h1v-4zM494 311v4h1v-4zM495 310v4h1v-4zM496 309v4h1v-4zM497 308v4h1v-4zM498 308v4h1v-4zM499 309v4h1v-4zM500 310v4h1v-4zM501 311v3h1v-3zM502 311v4h1v-4zM503 311v4h1v-4zM504 311v3h1v-3zM505 311v4h1v-4zM506 311v4h1v-4zM507 311v3h1v-3zM508 311v4h1v-4zM509 311v4h1v-4zM510 311v4h1v-4zM511 312v3h1v-3zM512 312v3h1v-3zM513 312v4h1v-4zM514 313v3h1v-3zM515 313v4h1v-4zM516 313v4h1v-4zM517 314v4h1v-4zM518 315v3h1v-3zM519 314v4h1v-4zM520 315v4h1v-4zM521 315v4h1v-4zM522 315v5h1v-5zM523 316v4h1v-4zM524 316v3h1v-3zM525 316v4h1v-4zM526 316v4h1v-4zM527 316v4h1v-4zM528 316v4h1v-4zM529 316v4h1v-4zM530 316v4h1v-4z"/>
<path shape-rendering="crispEdges" transform="translate(2.180 1.000) scale(3.92)" fill="#ff8000" d="M62 264v3h1v-3zM63 264v4h1v-4zM64 264v4h1v-4zM65 264v3h1v-3zM66 264v4h1v-4zM67 265v3h1v-3zM68 264v4h1v-4zM69 263v4h1v-4zM70 263v4h1v-4zM71 262v5h1v-5zM72 262v5h1v-5zM73 262v5h1v-5zM74 263v4h1v-4zM75 264v4h1v-4zM76 265v4h1v-4zM77 266v4h1v-4zM78 267v4h1v-4zM79 268v4h1v-4zM80 269v4h1v-4zM81 269v4h1v-4zM82 270v4h1v-4zM83 270v5h1v-5zM84 271v5h1v-5zM85 272v4h1v-4zM86 273v3h1v-3zM87 273v4h1v-4zM88 273v4h1v-4zM89 273v4h1v-4zM90 273v4h1v-4zM91 274v3h1v-3zM92 273v5h1v-5zM93 274v4h1v-4zM94 275v3h1v-3zM95 275v3h1v-3zM96 275v3h1v-3zM97 275v4h1v-4zM98 275v4h1v-4zM99 275v4h1v-4zM100 275v4h1v-4zM101 276v3h1v-3zM102 276v3h1v-3zM103 275v4h1v-4zM104 275v4h1v-4zM105 275v4h1v-4zM106 276v3h1v-3zM107 276v4h1v-4zM108 277v3h1v-3zM109 277v3h1v-3zM110 277v4h1v-4zM111 277v4h1v-4zM112 277v4h1v-4zM113 277v5h1v-5zM114 277v4h1v-4zM115 278v3h1v-3zM116 277v4h1v-4zM117 278v3h1v-3zM118 278v3h1v-3zM119 278v4h1v-4zM120 278v4h1v-4zM121 279v3h1v-3zM122 279v3h1v-3zM123 279v3h1v-3zM124 279v4h1v-4zM125 279v4h1v-4zM126 279v4h1v-4zM127 279v4h1v-4zM128 280v3h1v-3zM129 280v4h1v-4zM130 280v5h1v-5zM131 280v4h1v-4zM132 280v3h1v-3zM133 280v4h1v-4zM134 280v4h1v-4zM135 280v4h1v-4zM136 280v4h1v-4zM137 280v4h1v-4zM138 280v4h1v-4zM139 280v4h1v-4zM140 280v4h1v-4zM141 280v4h1v-4zM142 280v4h1v-4zM143 280v4h1v-4zM144 281v3h1v-3zM145 280v4h1v-4zM146 281v3h1v-3zM147 281v4h1v-4zM148 281v4h1v-4zM149 280v5h1v-5zM150 281v4h1v-4zM151 281v3h1v-3zM152 281v4h1v-4zM153 280v5h1v-5zM154 281v4h1v-4zM155 281v3h1v-3zM156 280v4h1v-4zM157 281v4h1v-4zM158 281v4h1v-4zM159 281v4h1v-4zM160 281v3h1v-3zM161 281v4h1v-4zM162 281v4h1v-4zM163 281v3h1v-3zM164 281v3h1v-3zM165 281v4h1v-4zM166 281v4h1v-4zM167 280v4h1v-4zM168 280v5h1v-5zM169 281v3h1v-3zM170 281v3h1v-3zM171 280v4h1v-4zM172 280v4h1v-4zM173 280v4h1v-4zM174 280v4h1v-4zM175 281v3h1v-3zM176 280v4h1v-4zM177 281v3h1v-3zM178 281v3h1v-3zM179 281v3h1v-3zM180 281v4h1v-4zM181 281v4h1v-4zM182 281v4h1v-4zM183 281v4h1v-4zM184 281v3h1v-3zM185 281v3h1v-3zM186 280v4h1v-4zM187 279v5h1v-5zM188 280v4h1v-4zM189 280v3h1v-3zM190 279v4h1v-4zM191 279v4h1v-4zM192 279v4h1v-4zM193 279v4h1v-4zM194 279v4h1v-4zM195 278v4h1v-4zM196 278v4h1v-4zM197 277v4h1v-4zM198 278v3h1v-3zM199 277v5h1v-5zM200 278v4h1v-4zM201 279v4h1v-4zM202 279v3h1v-3zM203 278v4h1v-4zM204 278v3h1v-3zM205 277v4h1v-4zM206 277v3h1v-3zM207 277v3h1v-3zM208 277v3h1v-3zM209 277v3h1v-3zM210 277v3h1v-3zM211 276v4h1v-4zM212 277v3h1v-3zM213 276v4h1v-4zM214 276v4h1v-4zM215 277v3h1v-3zM216 277v3h1v-3zM217 276v4h1v-4zM218 275v5h1v-5zM219 274v5h1v-5zM220 274v4h1v-4zM221 272v5h1v-5zM222 270v6h1v-6zM223 268v7h1v-7zM224 266v7h1v-7zM225 265v6h1v-6zM226 263v6h1v-6zM227 262v5h1v-5zM228 262v6h1v-6zM229 263v7h1v-7zM230 265v8h1v-8zM231 267v8h1v-8zM232 269v7h1v-7zM233 272v5h1v-5zM234 273v4h1v-4zM235 273v4h1v-4zM236 273v3h1v-3zM237 272v4h1v-4zM238 272v3h1v-3zM239 271v4h1v-4zM240 271v4h1v-4zM241 272v3h1v-3zM242 271v4h1v-4zM243 270v5h1v-5zM244 268v7h1v-7zM245 266v8h1v-8zM246 265v6h1v-6zM247 265v6h1v-6zM248 266v10h1v-10zM249 267v11h1v-11zM250 270v9h1v-9zM251 275v5h1v-5zM252 277v4h1v-4zM253 277v4h1v-4zM254 277v4h1v-4zM255 277v3h1v-3zM256 276v4h1v-4zM257 275v5h1v-5zM258 274v5h1v-5zM259 273v5h1v-5zM260 273v4h1v-4zM261 273v4h1v-4zM262 272v4h1v-4zM263 271v4h1v-4zM264 270v4h1v-4zM265 268v5h1v-5zM266 265v7h1v-7zM267 264v7h1v-7zM268 261v8h1v-8zM269 260v6h1v-6zM270 259v6h1v-6zM271 259v4h1v-4zM272 259v4h1v-4zM273 260v3h1v-3zM274 259v4h1v-4zM275 259v4h1v-4zM276 260v4h1v-4zM277 260v5h1v-5zM278 261v6h1v-6zM279 262v7h1v-7zM280 264v7h1v-7zM281 265v9h1v-9zM282 268v9h1v-9zM283 270v8h1v-8zM284 273v6h1v-6zM285 276v4h1v-4zM286 276v4h1v-4zM287 276v4h1v-4zM288 276v4h1v-4zM289 276v4h1v-4zM290 277v3h1v-3zM291 276v5h1v-5zM292 275v5h1v-5zM293 272v7h1v-7zM294 270v7h1v-7zM295 266v10h1v-10zM296 261v12h1v-12zM297 258v13h1v-13zM298 254v13h1v-13zM299 252v10h1v-10zM300 251v8h1v-8zM301 250v5h1v-5zM302 250v6h1v-6zM303 251v9h1v-9zM304 253v10h1v-10zM305 255v12h1v-12zM306 259v10h1v-10zM307 262v9h1v-9zM308 266v8h1v-8zM309 268v7h1v-7zM310 270v6h1v-6zM311 273v4h1v-4zM312 274v4h1v-4zM313 275v4h1v-4zM314 275v5h1v-5zM315 275v5h1v-5zM316 274v5h1v-5zM317 274v4h1v-4zM318 273v5h1v-5zM319 273v4h1v-4zM320 273v3h1v-3zM321 272v4h1v-4zM322 272v5h1v-5zM323 273v3h1v-3zM324 273v4h1v-4zM325 273v3h1v-3zM326 272v4h1v-4zM327 272v4h1v-4zM328 272v4h1v-4zM329 272v5h1v-5zM330 273v4h1v-4zM331 273v4h1v-4zM332 274v4h1v-4zM333 274v4h1v-4zM334 271v7h1v-7zM335 269v8h1v-8zM336 267v8h1v-8zM337 266v6h1v-6zM338 265v5h1v-5zM339 265v7h1v-7zM340 266v8h1v-8zM341 268v8h1v-8zM342 271v6h1v-6zM343 273v4h1v-4zM344 274v4h1v-4zM345 275v3h1v-3zM346 274v4h1v-4zM347 274v4h1v-4zM348 274v4h1v-4zM349 274v4h1v-4zM350 274v4h1v-4zM351 274v4h1v-4zM352 274v4h1v-4zM353 275v4h1v-4zM354 275v4h1v-4zM355 274v4h1v-4zM356 274v4h1v-4zM357 273v4h1v-4zM358 273v3h1v-3zM359 273v4h1v-4zM360 273v4h1v-4zM361 273v4h1v-4zM362 273v4h1v-4zM363 273v3h1v-3zM364 273v4h1v-4zM365 273v3h1v-3zM366 273v3h1v-3zM367 273v4h1v-4zM368 273v4h1v-4zM369 273v4h1v-4zM370 272v5h1v-5zM371 273v4h1v-4zM372 272v4h1v-4zM373 272v4h1v-4zM374 271v5h1v-5zM375 271v4h1v-4zM376 271v4h1v-4zM377 270v4h1v-4zM378 270v4h1v-4zM379 269v5h1v-5zM380 269v5h1v-5zM381 268v5h1v-5zM382 268v4h1v-4zM383 268v3h1v-3zM384 267v4h1v-4zM385 266v5h1v-5zM386 265v5h1v-5zM387 265v4h1v-4zM388 264v4h1v-4zM389 263v5h1v-5zM390 263v4h1v-4zM391 262v4h1v-4zM392 262v4h1v-4zM393 260v5h1v-5zM394 259v5h1v-5zM395 258v5h1v-5zM396 258v4h1v-4zM397 259v3h1v-3zM398 258v4h1v-4zM399 258v4h1v-4zM400 257v4h1v-4zM401 258v3h1v-3zM402 257v4h1v-4zM403 257v5h1v-5zM404 256v5h1v-5zM405 253v7h1v-7zM406 251v8h1v-8zM407 247v10h1v-10zM408 242v12h1v-12zM409 238v14h1v-14zM410 234v14h1v-14zM411 231v12h1v-12zM412 227v12h1v-12zM413 223v12h1v-12zM414 221v11h1v-11zM415 220v8h1v-8zM416 219v5h1v-5zM417 216v6h1v-6zM418 213v8h1v-8zM419 210v10h1v-10zM420 206v11h1v-11zM421 201v13h1v-13zM422 194v17h1v-17zM423 188v19h1v-19zM424 183v19h1v-19zM425 180v15h1v-15zM426 179v10h1v-10zM427 178v6h1v-6zM428 178v6h1v-6zM429 179v9h1v-9zM430 181v10h1v-10zM431 183v12h1v-12zM432 187v13h1v-13zM433 190v15h1v-15zM434 194v20h1v-20zM435 199v23h1v-23zM436 204v25h1v-25zM437 213v21h1v-21zM438 221v19h1v-19zM439 228v15h1v-15zM440 233v14h1v-14zM441 239v12h1v-12zM442 242v12h1v-12zM443 246v11h1v-11zM444 249v11h1v-11zM445 253v9h1v-9zM446 256v8h1v-8zM447 259v6h1v-6zM448 261v5h1v-5zM449 263v4h1v-4zM450 264v3h1v-3zM451 264v4h1v-4zM452 264v4h1v-4zM453 265v3h1v-3zM454 265v4h1v-4zM455 265v4h1v-4zM456 265v3h1v-3zM457 264v4h1v-4zM458 264v4h1v-4zM459 263v4h1v-4zM460 263v4h1v-4zM461 263v5h1v-5zM462 263v4h1v-4zM463 263v5h1v-5zM464 263v5h1v-5zM465 263v4h1v-4zM466 263v5h1v-5zM467 264v3h1v-3zM468 264v3h1v-3zM469 264v3h1v-3zM470 263v4h1v-4zM471 264v3h1v-3zM472 264v3h1v-3zM473 264v3h1v-3zM474 263v4h1v-4zM475 263v3h1v-3zM476 262v4h1v-4zM477 262v3h1v-3zM478 262v4h1v-4zM479 262v4h1v-4zM480 262v4h1v-4zM481 262v4h1v-4zM482 262v5h1v-5zM483 263v4h1v-4zM484 263v3h1v-3zM485 263v4h1v-4zM486 263v4h1v-4zM487 263v4h1v-4zM488 263v3h1v-3zM489 262v4h1v-4zM490 261v4h1v-4zM491 259v6h1v-6zM492 255v9h1v-9zM493 250v12h1v-12zM494 241v19h1v-19zM495 232v24h1v-24zM496 231v20h1v-20zM497 230v12h1v-12zM498 231v11h1v-11zM499 232v16h1v-16zM500 235v19h1v-19zM501 241v15h1v-15zM502 247v11h1v-11zM503 253v6h1v-6zM504 255v6h1v-6zM505 257v5h1v-5zM506 258v5h1v-5zM507 259v5h1v-5zM508 260v5h1v-5zM509 262v5h1v-5zM510 263v5h1v-5zM511 264v5h1v-5zM512 265v5h1v-5zM513 267v4h1v-4zM514 268v5h1v-5zM515 269v5h1v-5zM516 270v5h1v-5zM517 271v5h1v-5zM518 272v4h1v-4zM519 273v3h1v-3zM520 273v4h1v-4zM521 274v4h1v-4zM522 275v4h1v-4zM523 275v4h1v-4zM524 276v4h1v-4zM525 276v4h1v-4zM526 277v3h1v-3zM527 277v4h1v-4zM528 277v4h1v-4zM529 277v4h1v-4zM530 278v4h1v-4z"/>
<path shape-rendering="crispEdges" transform="translate(2.180 1.000) scale(3.92)" fill="#9600ff" d="M62 164v4h1v-4zM63 163v4h1v-4zM64 164v3h1v-3zM65 164v4h1v-4zM66 164v4h1v-4zM67 165v3h1v-3zM68 164v4h1v-4zM69 165v3h1v-3zM70 164v4h1v-4zM71 164v4h1v-4zM72 163v4h1v-4zM73 163v4h1v-4zM74 163v4h1v-4zM75 164v4h1v-4zM76 165v4h1v-4zM77 165v5h1v-5zM78 166v3h1v-3zM79 166v4h1v-4zM80 167v4h1v-4zM81 167v4h1v-4zM82 167v4h1v-4zM83 168v4h1v-4zM84 168v4h1v-4zM85 168v4h1v-4zM86 168v4h1v-4zM87 168v4h1v-4zM88 168v3h1v-3zM89 168v4h1v-4zM90 168v4h1v-4zM91 168v4h1v-4zM92 169v3h1v-3zM93 169v4h1v-4zM94 169v4h1v-4zM95 169v4h1v-4zM96 170v3h1v-3zM97 169v4h1v-4zM98 170v3h1v-3zM99 169v4h1v-4zM100 168v5h1v-5zM101 169v4h1v-4zM102 169v4h1v-4zM103 168v4h1v-4zM104 169v4h1v-4zM105 169v4h1v-4zM106 169v4h1v-4zM107 169v5h1v-5zM108 170v3h1v-3zM109 169v5h1v-5zM110 169v4h1v-4zM111 170v4h1v-4zM112 170v3h1v-3zM113 169v5h1v-5zM114 169v5h1v-5zM115 170v3h1v-3zM116 170v3h1v-3zM117 170v3h1v-3zM118 170v3h1v-3zM119 170v3h1v-3zM120 169v5h1v-5zM121 170v4h1v-4zM122 170v3h1v-3zM123 170v4h1v-4zM124 170v4h1v-4zM125 170v5h1v-5zM126 171v3h1v-3zM127 171v4h1v-4zM128 172v4h1v-4zM129 172v4h1v-4zM130 172v3h1v-3zM131 172v4h1v-4zM132 173v3h1v-3zM133 172v4h1v-4zM134 172v4h1v-4zM135 172v4h1v-4zM136 173v3h1v-3zM137 173v4h1v-4zM138 173v4h1v-4zM139 173v4h1v-4zM140 173v5h1v-5zM141 173v4h1v-4zM142 173v4h1v-4zM143 173v4h1v-4zM144 173v4h1v-4zM145 173v4h1v-4zM146 173v4h1v-4zM147 173v4h1v-4zM148 173v4h1v-4zM149 174v3h1v-3zM150 173v4h1v-4zM151 173v4h1v-4zM152 174v4h1v-4zM153 173v4h1v-4zM154 173v4h1v-4zM155 173v4h1v-4zM156 173v4h1v-4zM157 174v3h1v-3zM158 174v4h1v-4zM159 174v4h1v-4zM160 174v4h1v-4zM161 174v4h1v-4zM162 173v4h1v-4zM163 174v4h1v-4zM164 174v4h1v-4zM165 174v4h1v-4zM166 174v4h1v-4zM167 174v4h1v-4zM168 174v4h1v-4zM169 174v4h1v-4zM170 174v4h1v-4zM171 174v4h1v-4zM172 174v4h1v-4zM173 174v4h1v-4zM174 174v4h1v-4zM175 175v3h1v-3zM176 175v3h1v-3zM177 174v5h1v-5zM178 174v4h1v-4zM179 174v4h1v-4zM180 174v4h1v-4zM181 174v4h1v-4zM182 175v3h1v-3zM183 174v4h1v-4zM184 174v4h1v-4zM185 175v3h1v-3zM186 174v4h1v-4zM187 175v3h1v-3zM188 174v5h1v-5zM189 174v4h1v-4zM190 174v4h1v-4zM191 174v4h1v-4zM192 174v4h1v-4zM193 174v4h1v-4zM194 175v3h1v-3zM195 174v4h1v-4zM196 174v4h1v-4zM197 174v4h1v-4zM198 174v5h1v-5zM199 174v4h1v-4zM200 174v4h1v-4zM201 174v3h1v-3zM202 174v3h1v-3zM203 173v4h1v-4zM204 173v4h1v-4zM205 173v4h1v-4zM206 172v4h1v-4zM207 171v4h1v-4zM208 172v3h1v-3zM209 172v4h1v-4zM210 172v4h1v-4zM211 172v4h1v-4zM212 172v4h1v-4zM213 172v4h1v-4zM214 172v4h1v-4zM215 172v4h1v-4zM216 172v4h1v-4zM217 171v4h1v-4zM218 171v4h1v-4zM219 172v3h1v-3zM220 171v4h1v-4zM221 170v4h1v-4zM222 169v4h1v-4zM223 169v3h1v-3zM224 168v4h1v-4zM225 168v3h1v-3zM226 167v4h1v-4zM227 167v4h1v-4zM228 167v5h1v-5zM229 168v4h1v-4zM230 169v5h1v-5zM231 170v5h1v-5zM232 171v4h1v-4zM233 171v4h1v-4zM234 172v4h1v-4zM235 172v3h1v-3zM236 171v4h1v-4zM237 171v4h1v-4zM238 170v4h1v-4zM239 171v4h1v-4zM240 171v3h1v-3zM241 171v3h1v-3zM242 171v3h1v-3zM243 171v3h1v-3zM244 171v4h1v-4zM245 171v4h1v-4zM246 171v4h1v-4zM247 172v4h1v-4zM248 173v4h1v-4zM249 173v4h1v-4zM250 174v3h1v-3zM251 174v4h1v-4zM252 175v4h1v-4zM253 174v5h1v-5zM254 173v5h1v-5zM255 174v4h1v-4zM256 173v5h1v-5zM257 173v4h1v-4zM258 172v4h1v-4zM259 173v3h1v-3zM260 173v3h1v-3zM261 172v4h1v-4zM262 172v3h1v-3zM263 171v4h1v-4zM264 170v4h1v-4zM265 169v5h1v-5zM266 167v6h1v-6zM267 166v6h1v-6zM268 166v4h1v-4zM269 165v4h1v-4zM270 164v5h1v-5zM271 164v4h1v-4zM272 164v4h1v-4zM273 164v4h1v-4zM274 164v4h1v-4zM275 165v3h1v-3zM276 164v5h1v-5zM277 165v5h1v-5zM278 166v4h1v-4zM279 167v4h1v-4zM280 168v5h1v-5zM281 169v6h1v-6zM282 170v6h1v-6zM283 172v4h1v-4zM284 173v4h1v-4zM285 173v4h1v-4zM286 173v4h1v-4zM287 174v4h1v-4zM288 175v3h1v-3zM289 174v4h1v-4zM290 174v4h1v-4zM291 174v4h1v-4zM292 173v5h1v-5zM293 172v5h1v-5zM294 170v5h1v-5zM295 169v5h1v-5zM296 168v5h1v-5zM297 167v5h1v-5zM298 165v6h1v-6zM299 164v5h1v-5zM300 163v5h1v-5zM301 162v4h1v-4zM302 163v4h1v-4zM303 164v4h1v-4zM304 165v6h1v-6zM305 166v6h1v-6zM306 167v6h1v-6zM307 169v6h1v-6zM308 170v6h1v-6zM309 172v4h1v-4zM310 173v4h1v-4zM311 174v4h1v-4zM312 174v3h1v-3zM313 174v3h1v-3zM314 174v3h1v-3zM315 174v4h1v-4zM316 174v4h1v-4zM317 173v4h1v-4zM318 173v4h1v-4zM319 173v4h1v-4zM320 173v4h1v-4zM321 173v4h1v-4zM322 173v3h1v-3zM323 173v4h1v-4zM324 173v4h1v-4zM325 172v4h1v-4zM326 173v4h1v-4zM327 173v3h1v-3zM328 173v4h1v-4zM329 174v3h1v-3zM330 174v3h1v-3zM331 174v4h1v-4zM332 174v4h1v-4zM333 173v4h1v-4zM334 173v4h1v-4zM335 172v4h1v-4zM336 172v3h1v-3zM337 172v3h1v-3zM338 171v4h1v-4zM339 172v3h1v-3zM340 172v4h1v-4zM341 173v4h1v-4zM342 173v4h1v-4zM343 174v4h1v-4zM344 174v4h1v-4zM345 174v5h1v-5zM346 174v4h1v-4zM347 174v4h1v-4zM348 173v4h1v-4zM349 173v5h1v-5zM350 173v5h1v-5zM351 174v3h1v-3zM352 174v4h1v-4zM353 173v4h1v-4zM354 173v4h1v-4zM355 173v4h1v-4zM356 173v4h1v-4zM357 173v4h1v-4zM358 173v4h1v-4zM359 173v4h1v-4zM360 173v4h1v-4zM361 173v4h1v-4zM362 173v4h1v-4zM363 173v4h1v-4zM364 173v4h1v-4zM365 173v4h1v-4zM366 173v4h1v-4zM367 173v3h1v-3zM368 173v4h1v-4zM369 173v4h1v-4zM370 173v3h1v-3zM371 172v5h1v-5zM372 172v4h1v-4zM373 172v4h1v-4zM374 172v3h1v-3zM375 171v5h1v-5zM376 172v3h1v-3zM377 171v5h1v-5zM378 172v3h1v-3zM379 172v3h1v-3zM380 171v4h1v-4zM381 171v4h1v-4zM382 171v3h1v-3zM383 170v4h1v-4zM384 170v3h1v-3zM385 169v4h1v-4zM386 169v4h1v-4zM387 168v4h1v-4zM388 168v4h1v-4zM389 168v4h1v-4zM390 167v4h1v-4zM391 167v4h1v-4zM392 167v3h1v-3zM393 166v4h1v-4zM394 166v3h1v-3zM395 166v3h1v-3zM396 166v4h1v-4zM397 166v3h1v-3zM398 165v4h1v-4zM399 165v4h1v-4zM400 164v4h1v-4zM401 164v4h1v-4zM402 164v4h1v-4zM403 165v3h1v-3zM404 164v4h1v-4zM405 163v5h1v-5zM406 161v6h1v-6zM407 159v6h1v-6zM408 158v6h1v-6zM409 155v7h1v-7zM410 153v7h1v-7zM411 151v8h1v-8zM412 150v6h1v-6zM413 149v5h1v-5zM414 148v4h1v-4zM415 147v5h1v-5zM416 147v4h1v-4zM417 145v5h1v-5zM418 144v5h1v-5zM419 142v6h1v-6zM420 140v7h1v-7zM421 137v9h1v-9zM422 135v8h1v-8zM423 133v8h1v-8zM424 131v7h1v-7zM425 130v6h1v-6zM426 130v4h1v-4zM427 130v4h1v-4zM428 131v4h1v-4zM429 131v5h1v-5zM430 132v5h1v-5zM431 133v7h1v-7zM432 135v7h1v-7zM433 136v10h1v-10zM434 139v10h1v-10zM435 141v12h1v-12zM436 145v11h1v-11zM437 148v10h1v-10zM438 152v8h1v-8zM439 155v7h1v-7zM440 157v8h1v-8zM441 159v7h1v-7zM442 161v7h1v-7zM443 163v6h1v-6zM444 165v5h1v-5zM445 166v5h1v-5zM446 167v5h1v-5zM447 168v5h1v-5zM448 168v5h1v-5zM449 169v4h1v-4zM450 169v4h1v-4zM451 170v3h1v-3zM452 170v3h1v-3zM453 170v3h1v-3zM454 170v3h1v-3zM455 170v3h1v-3zM456 169v4h1v-4zM457 169v4h1v-4zM458 169v4h1v-4zM459 170v4h1v-4zM460 170v3h1v-3zM461 170v3h1v-3zM462 170v3h1v-3zM463 170v3h1v-3zM464 169v4h1v-4zM465 170v3h1v-3zM466 169v4h1v-4zM467 168v4h1v-4zM468 167v5h1v-5zM469 168v4h1v-4zM470 168v4h1v-4zM471 167v4h1v-4zM472 167v5h1v-5zM473 168v4h1v-4zM474 168v3h1v-3zM475 167v4h1v-4zM476 167v4h1v-4zM477 167v4h1v-4zM478 166v4h1v-4zM479 165v4h1v-4zM480 166v4h1v-4zM481 166v5h1v-5zM482 167v4h1v-4zM483 166v4h1v-4zM484 167v3h1v-3zM485 167v4h1v-4zM486 167v3h1v-3zM487 167v4h1v-4zM488 167v4h1v-4zM489 166v4h1v-4zM490 167v4h1v-4zM491 166v5h1v-5zM492 164v6h1v-6zM493 161v7h1v-7zM494 160v7h1v-7zM495 158v7h1v-7zM496 157v6h1v-6zM497 156v5h1v-5zM498 157v5h1v-5zM499 158v5h1v-5zM500 159v6h1v-6zM501 160v6h1v-6zM502 162v4h1v-4zM503 163v3h1v-3zM504 163v3h1v-3zM505 163v3h1v-3zM506 163v4h1v-4zM507 163v5h1v-5zM508 164v4h1v-4zM509 165v4h1v-4zM510 166v4h1v-4zM511 167v4h1v-4zM512 168v4h1v-4zM513 169v3h1v-3zM514 169v3h1v-3zM515 169v4h1v-4zM516 169v3h1v-3zM517 169v5h1v-5zM518 170v5h1v-5zM519 171v4h1v-4zM520 171v4h1v-4zM521 172v4h1v-4zM522 172v4h1v-4zM523 173v3h1v-3zM524 173v4h1v-4zM525 174v3h1v-3zM526 174v3h1v-3zM527 174v4h1v-4zM528 174v4h1v-4zM529 174v5h1v-5zM530 175v3h1v-3z"/>
<path shape-rendering="crispEdges" transform="translate(2.180 1.000) scale(3.92)" fill="#00e5e5" d="M62 116v3h1v-3zM63 116v4h1v-4zM64 116v4h1v-4zM65 117v4h1v-4zM66 117v4h1v-4zM67 116v4h1v-4zM68 115v5h1v-5zM69 115v4h1v-4zM70 114v4h1v-4zM71 115v4h1v-4zM72 115v3h1v-3zM73 115v4h1v-4zM74 116v3h1v-3zM75 116v4h1v-4zM76 116v4h1v-4zM77 117v4h1v-4zM78 118v4h1v-4zM79 119v4h1v-4zM80 119v4h1v-4zM81 120v4h1v-4zM82 120v4h1v-4zM83 121v4h1v-4zM84 121v5h1v-5zM85 121v5h1v-5zM86 122v4h1v-4zM87 122v4h1v-4zM88 123v3h1v-3zM89 123v4h1v-4zM90 124v3h1v-3zM91 123v4h1v-4zM92 124v4h1v-4zM93 123v4h1v-4zM94 124v4h1v-4zM95 124v3h1v-3zM96 124v4h1v-4zM97 124v4h1v-4zM98 124v4h1v-4zM99 124v4h1v-4zM100 124v4h1v-4zM101 124v4h1v-4zM102 124v3h1v-3zM103 124v3h1v-3zM104 124v3h1v-3zM105 123v4h1v-4zM106 123v4h1v-4zM107 124v3h1v-3zM108 123v4h1v-4zM109 123v4h1v-4zM110 123v4h1v-4zM111 124v4h1v-4zM112 124v3h1v-3zM113 124v4h1v-4zM114 124v4h1v-4zM115 124v4h1v-4zM116 123v5h1v-5zM117 124v5h1v-5zM118 125v4h1v-4zM119 125v4h1v-4zM120 126v4h1v-4zM121 127v3h1v-3zM122 127v4h1v-4zM123 127v4h1v-4zM124 127v3h1v-3zM125 126v4h1v-4zM126 127v4h1v-4zM127 127v4h1v-4zM128 128v4h1v-4zM129 129v3h1v-3zM130 129v4h1v-4zM131 130v3h1v-3zM132 129v5h1v-5zM133 130v4h1v-4zM134 131v3h1v-3zM135 131v3h1v-3zM136 131v3h1v-3zM137 131v4h1v-4zM138 131v3h1v-3zM139 131v4h1v-4zM140 131v3h1v-3zM141 131v4h1v-4zM142 131v4h1v-4zM143 131v4h1v-4zM144 131v4h1v-4zM145 131v3h1v-3zM146 131v4h1v-4zM147 131v4h1v-4zM148 131v3h1v-3zM149 131v4h1v-4zM150 131v4h1v-4zM151 131v4h1v-4zM152 130v5h1v-5zM153 131v4h1v-4zM154 131v4h1v-4zM155 131v4h1v-4zM156 131v4h1v-4zM157 131v4h1v-4zM158 131v4h1v-4zM159 131v4h1v-4zM160 132v3h1v-3zM161 131v4h1v-4zM162 131v4h1v-4zM163 132v3h1v-3zM164 131v4h1v-4zM165 131v4h1v-4zM166 131v4h1v-4zM167 131v4h1v-4zM168 131v3h1v-3zM169 131v4h1v-4zM170 130v5h1v-5zM171 131v4h1v-4zM172 131v4h1v-4zM173 131v4h1v-4zM174 132v4h1v-4zM175 132v4h1v-4zM176 133v3h1v-3zM177 133v3h1v-3zM178 133v3h1v-3zM179 133v3h1v-3zM180 132v5h1v-5zM181 132v4h1v-4zM182 132v4h1v-4zM183 132v4h1v-4zM184 132v3h1v-3zM185 132v4h1v-4zM186 131v4h1v-4zM187 131v5h1v-5zM188 130v5h1v-5zM189 131v5h1v-5zM190 131v4h1v-4zM191 131v3h1v-3zM192 130v4h1v-4zM193 130v4h1v-4zM194 130v4h1v-4zM195 130v4h1v-4zM196 130v4h1v-4zM197 130v3h1v-3zM198 130v4h1v-4zM199 129v5h1v-5zM200 129v4h1v-4zM201 129v4h1v-4zM202 128v5h1v-5zM203 129v4h1v-4zM204 128v5h1v-5zM205 129v4h1v-4zM206 129v3h1v-3zM207 129v4h1v-4zM208 128v4h1v-4zM209 128v3h1v-3zM210 128v3h1v-3zM211 128v3h1v-3zM212 127v4h1v-4zM213 127v4h1v-4zM214 128v3h1v-3zM215 128v4h1v-4zM216 128v4h1v-4zM217 128v4h1v-4zM218 128v4h1v-4zM219 127v4h1v-4zM220 126v4h1v-4zM221 125v4h1v-4zM222 124v4h1v-4zM223 121v7h1v-7zM224 120v7h1v-7zM225 119v6h1v-6zM226 117v5h1v-5zM227 116v5h1v-5zM228 117v4h1v-4zM229 117v6h1v-6zM230 118v8h1v-8zM231 120v7h1v-7zM232 122v6h1v-6zM233 124v5h1v-5zM234 125v3h1v-3zM235 125v3h1v-3zM236 125v3h1v-3zM237 125v3h1v-3zM238 124v4h1v-4zM239 124v4h1v-4zM240 124v4h1v-4zM241 124v3h1v-3zM242 124v4h1v-4zM243 124v4h1v-4zM244 123v5h1v-5zM245 122v5h1v-5zM246 121v5h1v-5zM247 122v5h1v-5zM248 123v7h1v-7zM249 125v6h1v-6zM250 126v6h1v-6zM251 129v4h1v-4zM252 130v4h1v-4zM253 129v5h1v-5zM254 129v4h1v-4zM255 128v5h1v-5zM256 128v4h1v-4zM257 128v3h1v-3zM258 126v5h1v-5zM259 125v5h1v-5zM260 124v5h1v-5zM261 124v4h1v-4zM262 123v4h1v-4zM263 123v4h1v-4zM264 120v7h1v-7zM265 119v7h1v-7zM266 117v7h1v-7zM267 114v7h1v-7zM268 110v10h1v-10zM269 109v9h1v-9zM270 108v7h1v-7zM271 108v4h1v-4zM272 109v4h1v-4zM273 109v5h1v-5zM274 110v5h1v-5zM275 111v4h1v-4zM276 111v4h1v-4zM277 112v5h1v-5zM278 113v6h1v-6zM279 114v7h1v-7zM280 116v7h1v-7zM281 118v7h1v-7zM282 120v7h1v-7zM283 122v6h1v-6zM284 124v5h1v-5zM285 126v3h1v-3zM286 126v4h1v-4zM287 127v4h1v-4zM288 127v5h1v-5zM289 127v4h1v-4zM290 127v4h1v-4zM291 127v5h1v-5zM292 126v5h1v-5zM293 125v5h1v-5zM294 123v6h1v-6zM295 121v7h1v-7zM296 116v10h1v-10zM297 113v11h1v-11zM298 111v11h1v-11zM299 110v7h1v-7zM300 109v5h1v-5zM301 109v4h1v-4zM302 108v5h1v-5zM303 109v5h1v-5zM304 110v8h1v-8zM305 112v9h1v-9zM306 113v10h1v-10zM307 117v7h1v-7zM308 120v6h1v-6zM309 122v5h1v-5zM310 123v6h1v-6zM311 125v5h1v-5zM312 126v5h1v-5zM313 127v4h1v-4zM314 127v4h1v-4zM315 127v4h1v-4zM316 127v3h1v-3zM317 126v4h1v-4zM318 125v5h1v-5zM319 125v4h1v-4zM320 125v3h1v-3zM321 124v4h1v-4zM322 124v4h1v-4zM323 125v3h1v-3zM324 125v3h1v-3zM325 124v4h1v-4zM326 124v3h1v-3zM327 124v4h1v-4zM328 124v5h1v-5zM329 125v4h1v-4zM330 126v4h1v-4zM331 126v4h1v-4zM332 126v4h1v-4zM333 126v5h1v-5zM334 124v6h1v-6zM335 122v6h1v-6zM336 120v7h1v-7zM337 119v6h1v-6zM338 118v5h1v-5zM339 119v6h1v-6zM340 120v7h1v-7zM341 122v6h1v-6zM342 124v5h1v-5zM343 125v4h1v-4zM344 126v4h1v-4zM345 126v4h1v-4zM346 125v5h1v-5zM347 125v4h1v-4zM348 126v3h1v-3zM349 125v5h1v-5zM350 125v4h1v-4zM351 125v4h1v-4zM352 125v4h1v-4zM353 125v4h1v-4zM354 126v3h1v-3zM355 125v4h1v-4zM356 125v4h1v-4zM357 125v4h1v-4zM358 125v4h1v-4zM359 125v4h1v-4zM360 125v4h1v-4zM361 125v4h1v-4zM362 125v4h1v-4zM363 124v5h1v-5zM364 125v3h1v-3zM365 124v4h1v-4zM366 124v4h1v-4zM367 124v4h1v-4zM368 125v3h1v-3zM369 124v4h1v-4zM370 124v4h1v-4zM371 124v4h1v-4zM372 123v5h1v-5zM373 123v4h1v-4zM374 123v3h1v-3zM375 122v4h1v-4zM376 122v4h1v-4zM377 122v4h1v-4zM378 121v4h1v-4zM379 121v4h1v-4zM380 120v5h1v-5zM381 120v4h1v-4zM382 120v4h1v-4zM383 120v4h1v-4zM384 119v4h1v-4zM385 119v4h1v-4zM386 118v4h1v-4zM387 118v4h1v-4zM388 117v4h1v-4zM389 116v4h1v-4zM390 115v5h1v-5zM391 114v5h1v-5zM392 114v4h1v-4zM393 113v4h1v-4zM394 112v4h1v-4zM395 112v4h1v-4zM396 111v4h1v-4zM397 111v3h1v-3zM398 110v4h1v-4zM399 109v5h1v-5zM400 109v4h1v-4zM401 110v4h1v-4zM402 110v3h1v-3zM403 109v4h1v-4zM404 108v4h1v-4zM405 106v5h1v-5zM406 104v6h1v-6zM407 101v8h1v-8zM408 97v10h1v-10zM409 94v11h1v-11zM410 90v12h1v-12zM411 85v13h1v-13zM412 81v14h1v-14zM413 80v11h1v-11zM414 79v7h1v-7zM415 78v5h1v-5zM416 76v6h1v-6zM417 74v6h1v-6zM418 72v7h1v-7zM419 69v8h1v-8zM420 67v8h1v-8zM421 63v11h1v-11zM422 58v12h1v-12zM423 53v15h1v-15zM424 50v14h1v-14zM425 49v10h1v-10zM426 47v7h1v-7zM427 46v6h1v-6zM428 47v6h1v-6zM429 48v8h1v-8zM430 50v8h1v-8zM431 52v8h1v-8zM432 55v8h1v-8zM433 57v11h1v-11zM434 59v15h1v-15zM435 62v19h1v-19zM436 67v21h1v-21zM437 73v21h1v-21zM438 80v17h1v-17zM439 87v14h1v-14zM440 93v11h1v-11zM441 96v12h1v-12zM442 100v10h1v-10zM443 103v9h1v-9zM444 107v7h1v-7zM445 109v7h1v-7zM446 111v6h1v-6zM447 113v6h1v-6zM448 115v5h1v-5zM449 116v4h1v-4zM450 117v4h1v-4zM451 117v4h1v-4zM452 118v3h1v-3zM453 118v3h1v-3zM454 117v5h1v-5zM455 117v4h1v-4zM456 117v4h1v-4zM457 116v5h1v-5zM458 117v4h1v-4zM459 117v4h1v-4zM460 118v3h1v-3zM461 118v4h1v-4zM462 118v3h1v-3zM463 117v4h1v-4zM464 117v3h1v-3zM465 117v4h1v-4zM466 117v3h1v-3zM467 117v4h1v-4zM468 117v3h1v-3zM469 116v4h1v-4zM470 116v3h1v-3zM471 115v4h1v-4zM472 114v5h1v-5zM473 115v4h1v-4zM474 115v4h1v-4zM475 115v4h1v-4zM476 115v4h1v-4zM477 115v4h1v-4zM478 115v4h1v-4zM479 115v4h1v-4zM480 116v4h1v-4zM481 116v3h1v-3zM482 116v4h1v-4zM483 116v3h1v-3zM484 116v3h1v-3zM485 116v3h1v-3zM486 115v4h1v-4zM487 115v4h1v-4zM488 115v4h1v-4zM489 115v4h1v-4zM490 115v4h1v-4zM491 113v5h1v-5zM492 111v6h1v-6zM493 108v8h1v-8zM494 104v10h1v-10zM495 101v11h1v-11zM496 99v10h1v-10zM497 98v7h1v-7zM498 98v5h1v-5zM499 99v7h1v-7zM500 101v8h1v-8zM501 102v9h1v-9zM502 105v7h1v-7zM503 108v6h1v-6zM504 109v6h1v-6zM505 111v5h1v-5zM506 113v4h1v-4zM507 114v5h1v-5zM508 115v5h1v-5zM509 116v5h1v-5zM510 117v5h1v-5zM511 118v5h1v-5zM512 119v4h1v-4zM513 120v5h1v-5zM514 121v5h1v-5zM515 122v4h1v-4zM516 123v4h1v-4zM517 124v3h1v-3zM518 124v4h1v-4zM519 125v4h1v-4zM520 126v4h1v-4zM521 127v3h1v-3zM522 127v4h1v-4zM523 127v4h1v-4zM524 128v4h1v-4zM525 129v4h1v-4zM526 129v4h1v-4zM527 129v4h1v-4zM528 129v4h1v-4zM529 129v4h1v-4zM530 129v5h1v-5z"/>
<g shape-rendering="crispEdges"><rect x="2124.00" y="510.20" width="7.30" height="606.30" fill="#000"/><rect x="2120.10" y="521.90" width="15.00" height="19.40" fill="#000"/><rect x="2116.10" y="541.30" width="23.10" height="11.60" fill="#000"/><rect x="2135.10" y="537.90" width="4.10" height="3.50" fill="#000"/><rect x="2116.10" y="1074.10" width="23.10" height="10.90" fill="#000"/><rect x="2120.10" y="1085.00" width="15.00" height="19.70" fill="#000"/><rect x="2135.10" y="1085.00" width="4.10" height="4.00" fill="#000"/><rect x="2228.80" y="514.20" width="7.50" height="602.30" fill="#0000ff"/><rect x="2225.00" y="521.90" width="11.30" height="19.40" fill="#0000ff"/><rect x="2236.20" y="526.10" width="4.00" height="15.20" fill="#0000ff"/><rect x="2220.90" y="541.30" width="23.30" height="15.50" fill="#0000ff"/><rect x="2127.80" y="1244.80" width="7.30" height="272.30" fill="#000"/><rect x="2127.80" y="1241.00" width="3.50" height="4.00" fill="#000"/><rect x="2124.00" y="1249.00" width="11.10" height="15.10" fill="#000"/><rect x="2135.10" y="1260.70" width="4.10" height="22.90" fill="#000"/><rect x="2120.10" y="1264.00" width="15.10" height="19.60" fill="#000"/><rect x="2139.20" y="1276.00" width="3.90" height="7.60" fill="#000"/><rect x="2120.10" y="1478.10" width="19.10" height="18.90" fill="#000"/><rect x="2139.20" y="1478.10" width="3.90" height="7.50" fill="#000"/><rect x="2124.00" y="1497.00" width="15.20" height="4.00" fill="#000"/><rect x="2124.00" y="1501.00" width="11.10" height="12.00" fill="#000"/><rect x="2127.80" y="1517.00" width="3.50" height="3.70" fill="#000"/><rect x="2228.80" y="1244.80" width="7.50" height="272.30" fill="#0000ff"/><rect x="2232.90" y="1241.00" width="3.40" height="4.00" fill="#0000ff"/><rect x="2236.20" y="1249.00" width="4.00" height="34.60" fill="#0000ff"/><rect x="2225.00" y="1260.80" width="11.30" height="22.80" fill="#0000ff"/><rect x="2240.20" y="1264.10" width="4.00" height="19.50" fill="#0000ff"/><rect x="2220.90" y="1276.10" width="4.20" height="7.50" fill="#0000ff"/><rect x="2232.90" y="1517.00" width="3.40" height="3.70" fill="#0000ff"/></g>
<g class="softh">
<text class="tick" transform="translate(375.7 1667) scale(0.975 1)">400</text>
<text class="tick" transform="translate(638.1 1667) scale(0.975 1)">600</text>
<text class="tick" transform="translate(902.9 1667) scale(0.975 1)">800</text>
<text class="tick" transform="translate(1165.2 1667) scale(0.975 1)">1000</text>
<text class="tick" transform="translate(1425.9 1667) scale(0.975 1)">1200</text>
<text class="tick" transform="translate(1690.7 1667) scale(0.975 1)">1400</text>
<text class="tick" transform="translate(1950.7 1667) scale(0.975 1)">1600</text>
</g>
<g class="softt">
<text class="ttl" transform="translate(1170.5 1811.5) scale(1.011 1)" x="0" y="0">Raman shift <tspan class="rg">(</tspan>cm<tspan class="rg" font-size="48" dy="-39">−1</tspan><tspan class="rg" dy="39">)</tspan></text>
</g>
<g class="soft">
<text class="ttl" style="font-size:82px" transform="translate(104.5 827.5) rotate(-90) scale(1.002 1)" x="0" y="0" dx="-0.7 0.0 4.8 -3.1 -2.0 -2.4 -1.7 -0.8 0.8 -1.7 0.0 2.6 1.7 1.65 0.85 0.85 -3.35 2.5 0.85 0.0 0.0">SERS Intensity <tspan class="rg2">(</tspan>a.u.<tspan class="rg2">)</tspan></text>
</g>
<g class="soft">
<text class="lab" transform="translate(264.2 435.7) scale(0.97 1)" fill="#00e5e5">A6</text>
<text class="lab" transform="translate(264.2 626.2) scale(0.97 1)" fill="#9600ff">A5</text>
<text class="lab" transform="translate(264.2 1010.7) scale(0.97 1)" fill="#ff8000">A4</text>
<text class="lab" transform="translate(264.2 1190.1) scale(0.97 1)" fill="#00ff00">A3</text>
<text class="lab" transform="translate(264.2 1326.3) scale(0.97 1)" fill="#ff0074">A2</text>
<text class="lab" transform="translate(264.2 1447.1) scale(0.97 1)" fill="#900082">A1</text>
</g>
<g class="soft">
<text class="ann" style="stroke-width:0.9px" transform="translate(2192.5 829.5) rotate(-90)" word-spacing="3">1 mL NaBH<tspan font-size="27" dy="19" dx="1">4</tspan></text>
<text class="ann" transform="translate(2286.3 815.2) rotate(-90) scale(0.94 1)">TSC</text>
<text class="ann" style="stroke-width:0.9px" transform="translate(2192.2 1358.5) rotate(-90)" word-spacing="0">400 μL NaBH<tspan font-size="27" dy="16" dx="-1">4</tspan></text>
<text class="ann" transform="translate(2286.5 1388.3) rotate(-90) scale(0.96 1)">TSC</text>
</g>
</svg></body></html>
